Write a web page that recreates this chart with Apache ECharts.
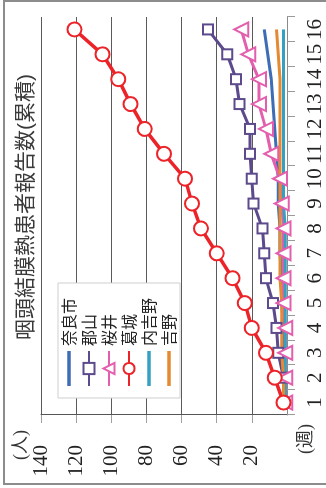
<!DOCTYPE html>
<html>
<head>
<meta charset="utf-8">
<script src="https://cdn.jsdelivr.net/npm/echarts@6/dist/echarts.min.js"></script>
<style>
  html, body { margin: 0; padding: 0; background: #fff; overflow: hidden; }
  body { width: 326px; height: 488px; position: relative; }
  /* the chart is laid out landscape and turned a quarter turn counter-clockwise */
  #chart {
    position: absolute; left: 0; top: 0;
    width: 488px; height: 326px;
    transform-origin: 0 0;
    transform: translate(0, 488px) rotate(-90deg);
  }
  #frame {
    position: absolute; left: 3px; top: 0; width: 340px; height: 485px;
    box-sizing: border-box; border: 2px solid #8c8c8c; pointer-events: none;
  }
</style>
</head>
<body>
<div id="chart"></div>
<div id="frame"></div>
<script>
// Weeks on the category axis
const weeks = ['1','2','3','4','5','6','7','8','9','10','11','12','13','14','15','16'];

// Cumulative reported cases per area
const nara        = [1, 1, 2, 2, 3, 3, 4, 4, 5, 5, 6, 7, 8, 9, 11, 13];
const koriyama    = [1, 2, 5, 6, 8, 12, 13, 14, 19, 20, 21, 21, 27, 29, 34, 45];
const sakurai     = [1, 1, 1, 1, 2, 2, 2, 2, 3, 4, 9, 12, 16, 16, 22, 26];
const katsuragi   = [2, 7, 12, 20, 24, 31, 40, 49, 54, 58, 70, 81, 89, 96, 105, 121];
const uchiyoshino = [1, 1, 1, 1, 1, 1, 1, 1, 2, 2, 2, 2, 2, 2, 2, 2];
const yoshino     = [2, 2, 3, 3, 3, 4, 4, 4, 4, 4, 4, 4, 4, 4, 5, 6];

// Value axis ticks
const valueMin = 0, valueMax = 140, valueStep = 20;

const serif = "'Liberation Serif', 'Noto Sans CJK JP'";
const sans = "'Liberation Sans', 'Noto Sans CJK JP'";
const cjk = "'Noto Sans CJK JP'";

// plain bar used as the legend mark of the lines drawn without symbols
const lineIcon = 'path://M0,0 L70,0 L70,7 L0,7 Z';

function lineSeries(name, data, color, symbol, size, width, border) {
  return {
    name: name,
    type: 'line',
    data: data,
    symbol: symbol,
    symbolSize: size,
    showSymbol: symbol !== 'none',
    lineStyle: { color: color, width: width },
    itemStyle: { color: color, borderColor: color, borderWidth: border },
    emphasis: { disabled: true },
    animation: false
  };
}

const chart = echarts.init(document.getElementById('chart'), null, { renderer: 'canvas' });
chart.setOption({
  backgroundColor: '#fff',
  animation: false,
  title: {
    text: '咽頭結膜熱患者報告数(累積)',
    left: 276,
    textAlign: 'center',
    top: 11,
    textStyle: { fontFamily: sans, fontSize: 21, fontWeight: 'normal', color: '#3a3a3a' }
  },
  legend: {
    orient: 'vertical',
    left: 90,
    top: 58,
    padding: [3, 15, 3, 11],
    itemGap: 4,
    itemWidth: 35,
    itemHeight: 14,
    backgroundColor: '#fff',
    borderColor: '#cfcfcf',
    borderWidth: 1,
    textStyle: { fontFamily: cjk, fontSize: 16, color: '#222' },
    data: [
      { name: '奈良市', icon: lineIcon },
      '郡山',
      '桜井',
      '葛城',
      { name: '内吉野', icon: lineIcon },
      { name: '吉野', icon: lineIcon }
    ]
  },
  grid: { left: 73, right: 17, top: 41, bottom: 37, containLabel: false },
  xAxis: {
    type: 'category',
    data: weeks,
    boundaryGap: true,
    name: '(週)',
    nameLocation: 'start',
    nameGap: 9,
    nameTextStyle: { fontFamily: serif, fontSize: 18, color: '#333', verticalAlign: 'top', padding: [10, 0, 0, 0] },
    axisLine: { lineStyle: { color: '#8a8a8a', width: 1 } },
    axisTick: { show: true, length: 8, lineStyle: { color: '#9a9a9a' } },
    axisLabel: { interval: 0, margin: 18, fontFamily: serif, fontSize: 21, color: '#222' },
    splitLine: { show: false }
  },
  yAxis: {
    type: 'value',
    min: valueMin,
    max: valueMax,
    interval: valueStep,
    name: '(人)',
    nameLocation: 'end',
    nameGap: 10,
    nameTextStyle: { fontFamily: serif, fontSize: 18, color: '#333', align: 'right', padding: [0, 15, 0, 0] },
    axisLine: { show: true, lineStyle: { color: '#555', width: 1 } },
    axisTick: { show: true, length: 8, lineStyle: { color: '#a0a0a0' } },
    axisLabel: { margin: 30, showMinLabel: false, fontFamily: serif, fontSize: 21, color: '#222' },
    splitLine: { show: true, lineStyle: { color: '#5a5a5a', width: 1 } }
  },
  series: [
    lineSeries('奈良市', nara, '#3d6db5', 'none', 0, 3, 0),
    lineSeries('郡山', koriyama, '#5c4a8c', 'emptyRect', 10, 3, 2.5),
    lineSeries('桜井', sakurai, '#e35fae', 'emptyTriangle', 14, 3, 2.5),
    lineSeries('葛城', katsuragi, '#ec2328', 'emptyCircle', 14, 3.5, 3.5),
    lineSeries('内吉野', uchiyoshino, '#35a0c2', 'none', 0, 3, 0),
    lineSeries('吉野', yoshino, '#e38a32', 'none', 0, 3, 0)
  ]
});
</script>
</body>
</html>
